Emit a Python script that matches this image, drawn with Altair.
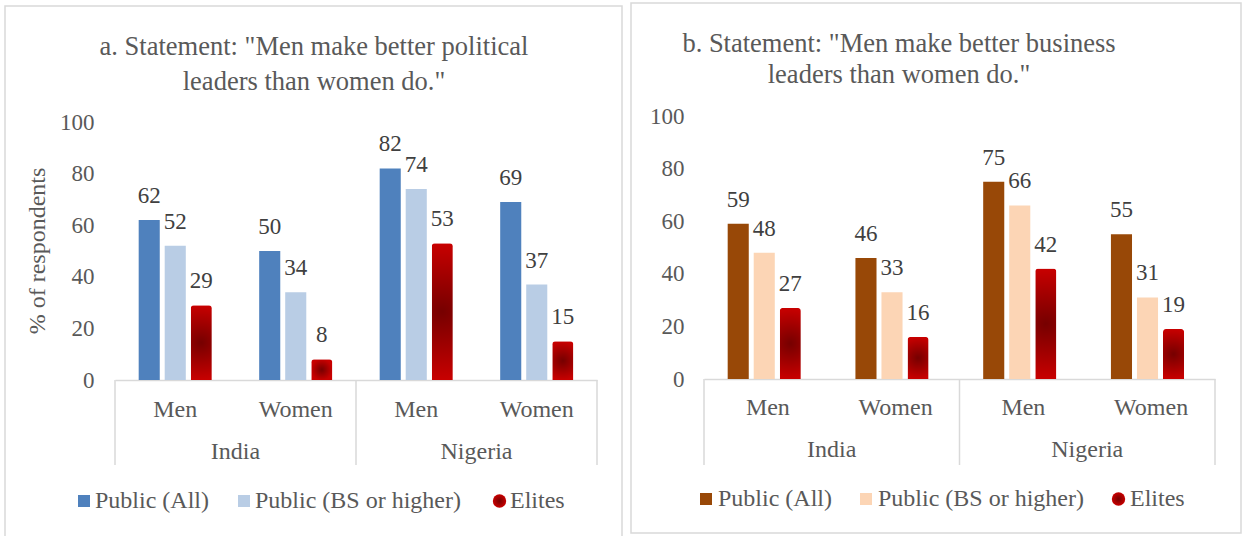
import altair as alt
import pandas as pd

# ---------------- data ----------------
countries = ["India", "India", "Nigeria", "Nigeria"]
genders = ["Men", "Women", "Men", "Women"]
series = ["Public (All)", "Public (BS or higher)", "Elites"]
y_ticks = [0, 20, 40, 60, 80, 100]

political_all = [62, 50, 82, 69]
political_bs = [52, 34, 74, 37]
political_elites = [29, 8, 53, 15]

business_all = [59, 46, 75, 55]
business_bs = [48, 33, 66, 31]
business_elites = [27, 16, 42, 19]

title_a = ["a. Statement: \"Men make better political", "leaders than women do.\""]
title_b = ["b. Statement: \"Men make better business", "leaders than women do.\""]
y_title = "% of respondents"

# ---------------- style ----------------
FONT = "Liberation Serif"
GREY = "#595959"
DARK = "#404040"
LINE = "#d9d9d9"
colors_a = ["#4F81BD", "#B9CDE5"]
colors_b = ["#984807", "#FCD5B5"]
ELITE = {"gradient": "radial",
         "stops": [{"offset": 0, "color": "#760000"},
                   {"offset": 1, "color": "#C80000"}]}

# both plot origins sit at the same height; panel a's plot is 6px shorter
# at the top, so its scale top is extended slightly above 100
geo_a = dict(w=482, h=264, ymax=100 * 264 / 258, pi=0.19, po=0.91, lp=21,
             rect=(-110, 507, -110, 429),
             title_x=199, title_y=-61, title_lh=35, ytitle=(-77, 135),
             cat_y=294, country_y=336, sep_y2=349,
             legend_y=385, sym_x=[-31, 129, 384.5], text_x=[-20, 140, 395])
geo_b = dict(w=511, h=263, ymax=100, pi=0.21, po=0.89, lp=20,
             rect=(-73, 537, -113, 417),
             title_x=195, title_y=-64, title_lh=31, ytitle=None,
             cat_y=292, country_y=334, sep_y2=349,
             legend_y=383, sym_x=[2, 162, 414.5], text_x=[14, 174, 426])


def panel(vals_all, vals_bs, vals_el, colors, title_lines, g):
    cells = [c + "|" + s for c, s in zip(countries, genders)]
    rows = []
    for i, cell in enumerate(cells):
        for name, vals in zip(series, (vals_all, vals_bs, vals_el)):
            rows.append({"cell": cell, "series": name, "value": vals[i]})
    df = pd.DataFrame(rows)
    cells_df = pd.DataFrame({"cell": cells, "gender": genders})
    firsts = [{"country": c, "cell": cells[countries.index(c)]}
              for c in dict.fromkeys(countries)]
    country_df = pd.DataFrame(firsts)
    last_df = cells_df.iloc[[-1]]
    one = pd.DataFrame({"k": [0]})

    x_axis = alt.Axis(labels=False, ticks=False, title=None, grid=False,
                      domainColor=LINE, domainWidth=1.5)
    x_scale = alt.Scale(domain=cells, paddingInner=0, paddingOuter=0)

    def X(**kw):
        return alt.X("cell:N", scale=x_scale, axis=x_axis, **kw)

    xo = alt.XOffset("series:N", scale=alt.Scale(domain=series,
                                                 paddingInner=g["pi"],
                                                 paddingOuter=g["po"]))
    y = alt.Y("value:Q", scale=alt.Scale(domain=[0, g["ymax"]], nice=False),
              axis=alt.Axis(values=y_ticks, ticks=False, domain=False,
                            grid=False, title=None, labelFont=FONT,
                            labelFontSize=23, labelColor=GREY,
                            labelPadding=g["lp"]))

    x1, x2, y1, y2 = g["rect"]
    border = alt.Chart(one).mark_rect(fill="transparent", stroke=LINE,
                                      strokeWidth=1.5).encode(
        x=alt.value(x1), x2=alt.value(x2), y=alt.value(y1), y2=alt.value(y2))

    bars = alt.Chart(df).transform_filter(
        alt.datum.series != "Elites").mark_bar().encode(
        x=X(), xOffset=xo, y=y,
        color=alt.Color("series:N",
                        scale=alt.Scale(domain=series[:2], range=colors),
                        legend=None))
    elites = alt.Chart(df).transform_filter(
        alt.datum.series == "Elites").mark_bar(
        color=ELITE, cornerRadiusTopLeft=3, cornerRadiusTopRight=3).encode(
        x=X(), xOffset=xo, y=y)
    labels = alt.Chart(df).mark_text(
        font=FONT, fontSize=23, color=DARK, baseline="alphabetic",
        dy=-17).encode(x=X(), xOffset=xo, y=y, text="value:Q")

    rule_kw = dict(color=LINE, strokeWidth=1.5)
    seps = alt.Chart(country_df).mark_rule(**rule_kw).encode(
        x=X(bandPosition=0), y=alt.value(g["h"]), y2=alt.value(g["sep_y2"]))
    sep_end = alt.Chart(last_df).mark_rule(**rule_kw).encode(
        x=X(bandPosition=1), y=alt.value(g["h"]), y2=alt.value(g["sep_y2"]))

    cat = alt.Chart(cells_df).mark_text(
        font=FONT, fontSize=24, color=GREY, baseline="middle").encode(
        x=X(), y=alt.value(g["cat_y"]), text="gender:N")
    ctry = alt.Chart(country_df).mark_text(
        font=FONT, fontSize=24, color=GREY, baseline="middle").encode(
        x=X(bandPosition=1), y=alt.value(g["country_y"]), text="country:N")

    title = alt.Chart(one).mark_text(
        font=FONT, fontSize=26.5, color=GREY, align="center",
        baseline="alphabetic", lineBreak="\n",
        lineHeight=g["title_lh"]).encode(
        x=alt.value(g["title_x"]), y=alt.value(g["title_y"]),
        text=alt.value("\n".join(title_lines)))

    layers = [border, bars, elites, labels, seps, sep_end, cat, ctry, title]

    if g["ytitle"] is not None:
        layers.append(alt.Chart(one).mark_text(
            font=FONT, fontSize=24, color=GREY, angle=270, align="center",
            baseline="middle").encode(
            x=alt.value(g["ytitle"][0]), y=alt.value(g["ytitle"][1]),
            text=alt.value(y_title)))

    sym_colors = [colors[0], colors[1], ELITE]
    for i, name in enumerate(series):
        layers.append(alt.Chart(one).mark_point(
            shape="square" if i < 2 else "circle", filled=True, opacity=1,
            color=sym_colors[i], size=144 if i < 2 else 180).encode(
            x=alt.value(g["sym_x"][i]), y=alt.value(g["legend_y"])))
        layers.append(alt.Chart(one).mark_text(
            font=FONT, fontSize=24, color=GREY, align="left",
            baseline="middle").encode(
            x=alt.value(g["text_x"][i]), y=alt.value(g["legend_y"]),
            text=alt.value(name)))

    return alt.layer(*layers).properties(width=g["w"], height=g["h"])


left = panel(political_all, political_bs, political_elites, colors_a,
             title_a, geo_a)
right = panel(business_all, business_bs, business_elites, colors_b,
              title_b, geo_b)

chart = alt.hconcat(left, right, spacing=7).resolve_scale(
    color="independent").properties(
    padding={"left": 4, "top": 2, "right": 0, "bottom": 0},
    background="white").configure_view(stroke=None)

chart.save("out.html", embed_options={"renderer": "svg", "actions": False})
